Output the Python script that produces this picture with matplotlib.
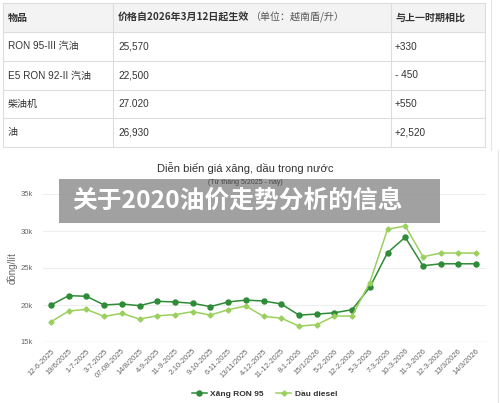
import matplotlib
matplotlib.use("Agg")
import matplotlib.pyplot as plt
from matplotlib.patches import Rectangle
from matplotlib.lines import Line2D

# table data
table_header = ["物品", "价格自2026年3月12日起生效", "（单位：越南盾/升）", "与上一时期相比"]
table_items = ["RON 95-III 汽油", "E5 RON 92-II 汽油", "柴油机", "油"]
table_prices = ["25,570", "22,500", "27.020", "26,930"]
table_changes = ["+330", "- 450", "+550", "+2,520"]

# chart data
dates = ["12-6-2025", "19/6/2025", "1-7-2025", "3-7-2025", "07-08-2025", "14/8/2025",
         "4-9-2025", "11-9-2025", "2-10-2025", "9-10-2025", "6-11-2025", "13/11/2025",
         "4-12-2025", "11-12-2025", "8-1-2026", "15/1/2026", "5-2-2026", "12-2-2026",
         "5-3-2026", "7-3-2026", "10-3-2026", "11-3-2026", "12-3-2026", "13/3/2026",
         "14/3/2026"]
ron95 = [20000, 21260, 21180, 20000, 20140, 19910, 20500, 20410, 20230, 19780, 20410,
         20660, 20540, 20140, 18640, 18770, 18950, 19360, 22400, 27070, 29150, 25300,
         25570, 25570, 25570]
diesel = [17730, 19180, 19410, 18460, 18870, 18100, 18550, 18690, 19100, 18640, 19360,
          19860, 18460, 18230, 17150, 17330, 18510, 18510, 23040, 30230, 30690, 26520,
          27020, 27020, 27020]
yticks = [15000, 20000, 25000, 30000, 35000]
ytick_labels = ["15k", "20k", "25k", "30k", "35k"]

dark = "#2e8b37"
light = "#9bd05e"
latin_cjk = ["Liberation Sans", "Noto Sans CJK SC"]
W, H = 500, 403

fig = plt.figure(figsize=(5, 4.03), dpi=100)
fig.patch.set_facecolor("white")

# background layer in pixel coordinates
bg = fig.add_axes([0, 0, 1, 1], zorder=0)
bg.set_xlim(0, W)
bg.set_ylim(H, 0)
bg.axis("off")

# table
col_x = [3, 113, 391, 485]
row_y = [3, 32, 61, 90, 118, 147]
bg.add_patch(Rectangle((col_x[0], row_y[0]), col_x[-1] - col_x[0], row_y[1] - row_y[0],
                       facecolor="#f3f3f3", edgecolor="none"))
for y in row_y:
    bg.add_line(Line2D([col_x[0], col_x[-1]], [y, y], color="#dddddd", lw=0.8))
for x in col_x:
    bg.add_line(Line2D([x, x], [row_y[0], row_y[-1]], color="#dddddd", lw=0.8))
bg.add_line(Line2D([491, 491], [0, 150], color="#e6e6e6", lw=0.8))

hy = (row_y[0] + row_y[1]) / 2
bg.text(8, hy, table_header[0], fontsize=7.2, fontweight="bold", color="#333333",
        family=["Noto Sans CJK SC"], va="center")
bg.text(118, hy, table_header[1], fontsize=7.2, fontweight="bold", color="#333333",
        family=["Noto Sans CJK SC"], va="center")
bg.text(250, hy, table_header[2], fontsize=7.2, color="#555555",
        family=["Noto Sans CJK SC"], va="center")
bg.text(395, hy, table_header[3], fontsize=7.2, fontweight="bold", color="#333333",
        family=["Noto Sans CJK SC"], va="center")
for i in range(len(table_items)):
    cy = (row_y[i + 1] + row_y[i + 2]) / 2
    bg.text(8, cy, table_items[i], fontsize=7.2, color="#333333", family=latin_cjk, va="center")
    bg.text(118, cy, table_prices[i], fontsize=7.2, color="#333333", family=latin_cjk, va="center")
    bg.text(395, cy, table_changes[i], fontsize=7.2, color="#333333", family=latin_cjk, va="center")

# chart titles
bg.text(245, 168, "Diễn biến giá xăng, dầu trong nước", fontsize=8, color="#333333",
        family=["Liberation Sans"], ha="center", va="center")
bg.text(12, 268, "đồng/lít", fontsize=7, color="#666666", family=["Liberation Sans"],
        rotation=90, ha="center", va="center")
bg.add_line(Line2D([498, 498], [150, H], color="#e6e6e6", lw=0.8))

# line chart
ax = fig.add_axes([43 / W, 1 - 342 / H, 443 / W, 148 / H], zorder=1)
ax.patch.set_alpha(0)
x = list(range(len(dates)))
ax.plot(x, ron95, color=dark, lw=1.1, marker="o", ms=3.6, label="Xăng RON 95", zorder=3)
ax.plot(x, diesel, color=light, lw=1.1, marker="D", ms=2.6, label="Dầu diesel", zorder=3)
ax.set_xlim(-0.45, 24.56)
ax.set_ylim(15000, 35000)
ax.set_yticks(yticks)
ax.set_yticklabels(ytick_labels, family="Liberation Sans", fontsize=5.5, color="#666666")
ax.set_xticks(x)
ax.set_xticklabels(dates, rotation=45, ha="right", va="top", rotation_mode="anchor",
                   family="Liberation Sans", fontsize=5.5, color="#666666")
ax.tick_params(axis="both", length=0)
ax.tick_params(axis="y", pad=7)
ax.tick_params(axis="x", pad=4)
for s in ax.spines.values():
    s.set_visible(False)
for v in yticks[1:]:
    ax.axhline(v, color="#eeeeee", lw=0.8, zorder=1)
ax.axhline(yticks[0], color="#ccd6eb", lw=0.9, zorder=1)

leg = ax.legend(loc="center", bbox_to_anchor=(0.5, -0.35), ncol=2, frameon=False,
                prop={"family": "Liberation Sans", "size": 6, "weight": "bold"},
                handlelength=1.8, columnspacing=1.5, handletextpad=0.4)
for t in leg.get_texts():
    t.set_color("#333333")

# overlay banner
top = fig.add_axes([0, 0, 1, 1], zorder=2)
top.set_xlim(0, W)
top.set_ylim(H, 0)
top.axis("off")
top.patch.set_alpha(0)
top.add_patch(Rectangle((59, 179), 381, 44, facecolor="#8a8a8a", alpha=0.8,
                        edgecolor="none"))
top.text(245, 183, "(Từ tháng 5/2025 - nay)", fontsize=5, color="#444444",
         family=["Liberation Sans"], ha="center", va="center")
top.text(72, 201, "关于2020油价走势分析的信息", fontsize=17.8, fontweight="heavy",
         color="white", family=["Noto Sans CJK SC"], va="center")

fig.savefig("out.png", dpi=100)
